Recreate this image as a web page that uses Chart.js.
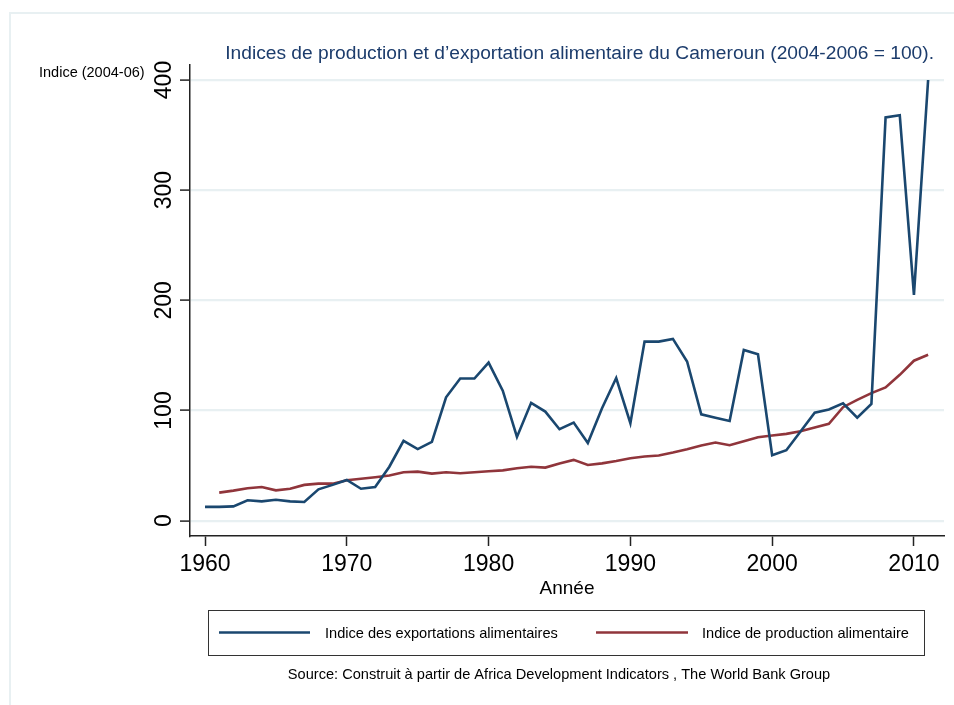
<!DOCTYPE html>
<html>
<head>
<meta charset="utf-8">
<script src="https://cdn.jsdelivr.net/npm/chart.js@4"></script>
<style>
  html, body { margin: 0; padding: 0; background: #fff; }
  #wrap { width: 954px; height: 705px; position: relative; }
</style>
</head>
<body>
<div id="wrap"><canvas id="chart" width="954" height="705"></canvas></div>
<script>
// ---- data ----
const years = [1960, 1961, 1962, 1963, 1964, 1965, 1966, 1967, 1968, 1969,
               1970, 1971, 1972, 1973, 1974, 1975, 1976, 1977, 1978, 1979,
               1980, 1981, 1982, 1983, 1984, 1985, 1986, 1987, 1988, 1989,
               1990, 1991, 1992, 1993, 1994, 1995, 1996, 1997, 1998, 1999,
               2000, 2001, 2002, 2003, 2004, 2005, 2006, 2007, 2008, 2009,
               2010, 2011];

const exportIndex = [12.5, 12.5, 13, 18.5, 17.5, 19, 17.5, 17, 28.5, 32.5,
                     37, 29, 30.5, 49, 72.5, 65, 71.5, 112, 129, 129,
                     143.5, 118, 76, 107, 99, 83, 89, 70.5, 102, 129.5,
                     88.5, 162.5, 162.5, 165, 144.5, 96.5, 93.5, 90.5, 155, 151,
                     59.5, 64, 81, 98, 101, 106.5, 93.5, 106, 366, 368,
                     205, 400];

// production starts in 1961
const productionIndex = [null, 25.5, 27.3, 29.4, 30.6, 27.5, 29, 32.5, 33.6, 33.6,
                         36.7, 38, 39.5, 41, 44, 44.5, 42.7, 44, 43, 44,
                         44.8, 45.7, 47.6, 49, 48.2, 52, 55.2, 50.6, 52, 54.2,
                         56.7, 58.2, 59.1, 61.8, 64.8, 68.2, 70.9, 68.5, 72.1, 75.8,
                         77.3, 78.8, 81.2, 84.5, 87.9, 103, 109.7, 115.8, 120.9, 132.4,
                         145.2, 150.6];

const xTickValues = [1960, 1970, 1980, 1990, 2000, 2010];
const yTickValues = [0, 100, 200, 300, 400];

const seriesLabels = ['Indice des exportations alimentaires', 'Indice de production alimentaire'];
const titleText = 'Indices de production et d\u2019exportation alimentaire du Cameroun (2004-2006 = 100).';
const yAxisTitle = 'Indice (2004-06)';
const xAxisTitle = 'Ann\u00e9e';
const sourceText = 'Source: Construit \u00e0 partir de Africa Development Indicators , The World Bank Group';

const NAVY = '#1a476f';
const MAROON = '#90353b';
const GRID = '#e8f0f2';
const FONT = "'Liberation Sans', Arial, sans-serif";

Chart.defaults.font.family = FONT;
Chart.defaults.color = '#000';

// everything outside the plot region: frame, titles, rotated y labels, legend, source
const decorations = {
    id: 'decorations',
    beforeDraw(chart) {
        const ctx = chart.ctx;
        ctx.save();
        ctx.strokeStyle = GRID;
        ctx.lineWidth = 2;
        ctx.strokeRect(10, 13, chart.width + 20, chart.height + 20);
        ctx.restore();
    },
    afterDraw(chart) {
        const ctx = chart.ctx;
        const area = chart.chartArea;
        const yScale = chart.scales.y;
        ctx.save();

        // title
        ctx.fillStyle = '#1c3c6c';
        ctx.font = '19.2px ' + FONT;
        ctx.textAlign = 'right';
        ctx.textBaseline = 'alphabetic';
        ctx.fillText(titleText, 934, 59);

        // y axis title, horizontal at top left
        ctx.fillStyle = '#000';
        ctx.font = '14.5px ' + FONT;
        ctx.textAlign = 'left';
        ctx.fillText(yAxisTitle, 39, 77);

        // rotated y tick labels
        ctx.font = '23px ' + FONT;
        ctx.textAlign = 'center';
        yScale.ticks.forEach(t => {
            const py = yScale.getPixelForValue(t.value);
            ctx.save();
            ctx.translate(171, py);
            ctx.rotate(-Math.PI / 2);
            ctx.fillText(String(t.value), 0, 0);
            ctx.restore();
        });

        // x axis title
        ctx.font = '19px ' + FONT;
        ctx.fillText(xAxisTitle, (area.left + area.right) / 2, 594);

        // legend box
        ctx.strokeStyle = '#333';
        ctx.lineWidth = 1;
        ctx.strokeRect(208.5, 610.5, 716, 45);
        ctx.font = '14.6px ' + FONT;
        ctx.textAlign = 'left';
        const items = [
            { x1: 219, x2: 310, tx: 325 },
            { x1: 596, x2: 688, tx: 702 }
        ];
        chart.data.datasets.forEach((ds, i) => {
            const it = items[i];
            ctx.strokeStyle = ds.borderColor;
            ctx.lineWidth = 2.6;
            ctx.beginPath();
            ctx.moveTo(it.x1, 632.5);
            ctx.lineTo(it.x2, 632.5);
            ctx.stroke();
            ctx.fillStyle = '#000';
            ctx.fillText(ds.label, it.tx, 638);
        });

        // source
        ctx.textAlign = 'center';
        ctx.fillText(sourceText, 559, 679);
        ctx.restore();
    }
};

new Chart(document.getElementById('chart'), {
    type: 'line',
    data: {
        datasets: [
            {
                label: seriesLabels[0],
                data: years.map((y, i) => ({ x: y, y: exportIndex[i] })),
                borderColor: NAVY,
                backgroundColor: NAVY,
                borderWidth: 2.6,
                pointRadius: 0,
                tension: 0
            },
            {
                label: seriesLabels[1],
                data: years.map((y, i) => ({ x: y, y: productionIndex[i] })),
                borderColor: MAROON,
                backgroundColor: MAROON,
                borderWidth: 2.6,
                pointRadius: 0,
                tension: 0,
                spanGaps: false
            }
        ]
    },
    options: {
        responsive: false,
        animation: false,
        layout: { padding: { left: 130, top: 65, right: 10, bottom: 129 } },
        plugins: {
            legend: { display: false },
            title: { display: false },
            tooltip: { enabled: false }
        },
        scales: {
            x: {
                type: 'linear',
                min: 1958.94,
                max: 2012.12,
                afterBuildTicks: s => { s.ticks = xTickValues.map(v => ({ value: v })); },
                afterFit: s => { s.height = 40; },
                border: { color: '#222', width: 1.5 },
                grid: { drawOnChartArea: false, drawTicks: true, tickLength: 10, tickColor: '#222', tickWidth: 1.5 },
                ticks: { font: { size: 23 }, color: '#000', padding: 5, maxRotation: 0, callback: v => String(v) }
            },
            y: {
                type: 'linear',
                min: -13.9,
                max: 413.6,
                afterBuildTicks: s => { s.ticks = yTickValues.map(v => ({ value: v })); },
                afterFit: s => { s.width = 60; },
                border: { color: '#222', width: 1.5 },
                grid: { color: GRID, lineWidth: 2.2, drawTicks: true, tickLength: 10, tickColor: '#222', tickWidth: 1.5 },
                ticks: { display: false }
            }
        }
    },
    plugins: [decorations]
});
</script>
</body>
</html>
